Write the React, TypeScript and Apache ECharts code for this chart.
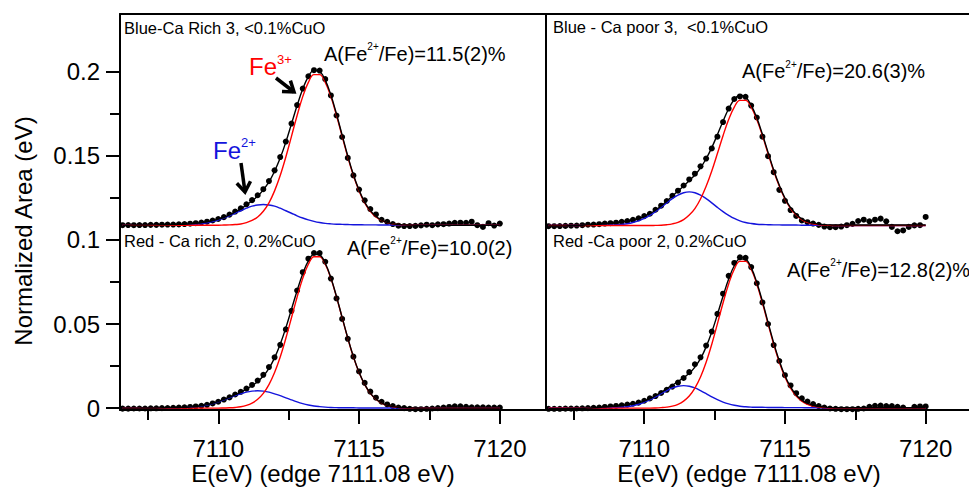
import React, { useEffect, useRef } from 'react';
import * as echarts from 'echarts';

// Photon energy grid shared by all four spectra (eV)
const ENERGY = [
  7106.6, 7106.8, 7107.0, 7107.2, 7107.4, 7107.6, 7107.8, 7108.0, 7108.2, 7108.4,
  7108.6, 7108.8, 7109.0, 7109.2, 7109.4, 7109.6, 7109.8, 7110.0, 7110.2, 7110.4,
  7110.6, 7110.8, 7111.0, 7111.2, 7111.4, 7111.6, 7111.8, 7112.0, 7112.2, 7112.4,
  7112.6, 7112.8, 7113.0, 7113.2, 7113.4, 7113.6, 7113.8, 7114.0, 7114.2, 7114.4,
  7114.6, 7114.8, 7115.0, 7115.2, 7115.4, 7115.6, 7115.8, 7116.0, 7116.2, 7116.4,
  7116.6, 7116.8, 7117.0, 7117.2, 7117.4, 7117.6, 7117.8, 7118.0, 7118.2, 7118.4,
  7118.6, 7118.8, 7119.0, 7119.2, 7119.4, 7119.6, 7119.8, 7120.0,
];

// Vertical offsets of the upper spectra in each panel
const OFFSET_RICH_3 = 0.1087;
const OFFSET_POOR_3 = 0.1085;

// Blue - Ca rich 3 (upper left)
const RICH3_DATA = [
  0.0000, 0.0001, 0.0000, 0.0001, 0.0001, 0.0002, 0.0002, 0.0003, 0.0004, 0.0004,
  0.0005, 0.0007, 0.0009, 0.0012, 0.0016, 0.0021, 0.0028, 0.0037, 0.0048, 0.0063,
  0.0081, 0.0100, 0.0124, 0.0149, 0.0178, 0.0214, 0.0262, 0.0326, 0.0405, 0.0497,
  0.0604, 0.0714, 0.0812, 0.0885, 0.0921, 0.0919, 0.0868, 0.0771, 0.0652, 0.0524,
  0.0400, 0.0296, 0.0212, 0.0148, 0.0096, 0.0064, 0.0032, 0.0020, 0.0007, -0.0003,
  -0.0005, -0.0005, -0.0004, -0.0001, 0.0003, 0.0000, 0.0005, 0.0006, 0.0010, 0.0014,
  0.0015, 0.0014, 0.0021, 0.0000, -0.0010, 0.0012, -0.0002, 0.0010,
];
const RICH3_FIT = [
  0.0000, 0.0000, 0.0001, 0.0001, 0.0001, 0.0002, 0.0002, 0.0003, 0.0003, 0.0004,
  0.0005, 0.0006, 0.0008, 0.0011, 0.0015, 0.0020, 0.0027, 0.0036, 0.0046, 0.0061,
  0.0079, 0.0097, 0.0120, 0.0145, 0.0173, 0.0210, 0.0257, 0.0321, 0.0399, 0.0494,
  0.0602, 0.0711, 0.0809, 0.0883, 0.0920, 0.0913, 0.0862, 0.0774, 0.0660, 0.0535,
  0.0411, 0.0300, 0.0209, 0.0137, 0.0087, 0.0053, 0.0030, 0.0017, 0.0008, 0.0005,
  0.0002, 0.0001, 0.0000, 0.0000, 0.0000, 0.0000, 0.0000, 0.0000, 0.0000, 0.0000,
  0.0000, 0.0000, 0.0000, 0.0000, 0.0000, 0.0000, 0.0000, 0.0000,
];
const RICH3_FE3 = [
  0.0000, 0.0000, 0.0000, 0.0000, 0.0000, 0.0000, 0.0000, 0.0000, 0.0000, 0.0000,
  0.0000, 0.0000, 0.0000, 0.0000, 0.0000, 0.0000, 0.0000, 0.0000, 0.0001, 0.0002,
  0.0004, 0.0007, 0.0015, 0.0028, 0.0049, 0.0083, 0.0133, 0.0204, 0.0295, 0.0405,
  0.0528, 0.0652, 0.0764, 0.0849, 0.0895, 0.0895, 0.0849, 0.0764, 0.0652, 0.0528,
  0.0405, 0.0295, 0.0204, 0.0133, 0.0083, 0.0049, 0.0028, 0.0015, 0.0007, 0.0004,
  0.0002, 0.0001, 0.0000, 0.0000, 0.0000, 0.0000, 0.0000, 0.0000, 0.0000, 0.0000,
  0.0000, 0.0000, 0.0000, 0.0000, 0.0000, 0.0000, 0.0000, 0.0000,
];
const RICH3_FE2 = [
  0.0000, 0.0000, 0.0000, 0.0000, 0.0000, 0.0000, 0.0000, 0.0001, 0.0001, 0.0001,
  0.0002, 0.0003, 0.0004, 0.0006, 0.0009, 0.0014, 0.0021, 0.0030, 0.0042, 0.0055,
  0.0071, 0.0086, 0.0101, 0.0113, 0.0120, 0.0123, 0.0120, 0.0113, 0.0101, 0.0086,
  0.0071, 0.0056, 0.0043, 0.0032, 0.0023, 0.0016, 0.0011, 0.0008, 0.0006, 0.0005,
  0.0004, 0.0003, 0.0003, 0.0002, 0.0002, 0.0002, 0.0001, 0.0001, 0.0001, 0.0001,
  0.0000, 0.0000, 0.0000, 0.0000, 0.0000, 0.0000, 0.0000, 0.0000, 0.0000, 0.0000,
  0.0000, 0.0000, 0.0000, 0.0000, 0.0000, 0.0000, 0.0000, 0.0000,
];

// Red - Ca rich 2 (lower left)
const RICH2_DATA = [
  -0.0003, -0.0003, -0.0002, -0.0002, -0.0002, -0.0001, -0.0001, 0.0000, 0.0001, 0.0002,
  0.0003, 0.0005, 0.0007, 0.0010, 0.0014, 0.0020, 0.0028, 0.0038, 0.0051, 0.0064,
  0.0081, 0.0097, 0.0116, 0.0138, 0.0164, 0.0198, 0.0244, 0.0302, 0.0376, 0.0468,
  0.0578, 0.0699, 0.0808, 0.0888, 0.0922, 0.0922, 0.0870, 0.0770, 0.0652, 0.0530,
  0.0412, 0.0306, 0.0218, 0.0150, 0.0098, 0.0062, 0.0038, 0.0022, 0.0012, 0.0004,
  0.0000, -0.0004, -0.0006, -0.0006, -0.0004, -0.0002, 0.0000, 0.0003, 0.0007, 0.0011,
  0.0011, 0.0008, 0.0005, 0.0005, 0.0005, 0.0004, 0.0004, 0.0003,
];
const RICH2_FIT = [
  0.0000, 0.0000, 0.0000, 0.0000, 0.0001, 0.0001, 0.0001, 0.0002, 0.0003, 0.0003,
  0.0004, 0.0005, 0.0007, 0.0010, 0.0015, 0.0021, 0.0029, 0.0039, 0.0052, 0.0065,
  0.0080, 0.0095, 0.0113, 0.0133, 0.0158, 0.0191, 0.0237, 0.0299, 0.0380, 0.0477,
  0.0587, 0.0698, 0.0799, 0.0875, 0.0914, 0.0910, 0.0861, 0.0775, 0.0663, 0.0539,
  0.0417, 0.0306, 0.0213, 0.0141, 0.0089, 0.0054, 0.0031, 0.0017, 0.0009, 0.0005,
  0.0003, 0.0002, 0.0001, 0.0000, 0.0000, 0.0000, 0.0000, 0.0000, 0.0000, 0.0000,
  0.0000, 0.0000, 0.0000, 0.0000, 0.0000, 0.0000, 0.0000, 0.0000,
];
const RICH2_FE3 = [
  0.0000, 0.0000, 0.0000, 0.0000, 0.0000, 0.0000, 0.0000, 0.0000, 0.0000, 0.0000,
  0.0000, 0.0000, 0.0000, 0.0000, 0.0000, 0.0000, 0.0000, 0.0000, 0.0001, 0.0002,
  0.0004, 0.0008, 0.0016, 0.0030, 0.0053, 0.0088, 0.0140, 0.0212, 0.0304, 0.0415,
  0.0537, 0.0660, 0.0771, 0.0855, 0.0900, 0.0900, 0.0855, 0.0771, 0.0660, 0.0537,
  0.0415, 0.0304, 0.0212, 0.0140, 0.0088, 0.0053, 0.0030, 0.0016, 0.0008, 0.0004,
  0.0002, 0.0001, 0.0000, 0.0000, 0.0000, 0.0000, 0.0000, 0.0000, 0.0000, 0.0000,
  0.0000, 0.0000, 0.0000, 0.0000, 0.0000, 0.0000, 0.0000, 0.0000,
];
const RICH2_FE2 = [
  0.0000, 0.0000, 0.0000, 0.0000, 0.0000, 0.0000, 0.0000, 0.0000, 0.0001, 0.0001,
  0.0002, 0.0003, 0.0005, 0.0008, 0.0013, 0.0019, 0.0027, 0.0037, 0.0049, 0.0061,
  0.0074, 0.0085, 0.0095, 0.0101, 0.0103, 0.0101, 0.0095, 0.0085, 0.0074, 0.0061,
  0.0049, 0.0037, 0.0027, 0.0019, 0.0013, 0.0009, 0.0006, 0.0004, 0.0003, 0.0002,
  0.0002, 0.0002, 0.0001, 0.0001, 0.0001, 0.0001, 0.0001, 0.0001, 0.0001, 0.0001,
  0.0000, 0.0000, 0.0000, 0.0000, 0.0000, 0.0000, 0.0000, 0.0000, 0.0000, 0.0000,
  0.0000, 0.0000, 0.0000, 0.0000, 0.0000, 0.0000, 0.0000, 0.0000,
];

// Blue - Ca poor 3 (upper right)
const POOR3_DATA = [
  -0.0004, -0.0004, -0.0003, -0.0002, -0.0001, 0.0000, 0.0002, 0.0005, 0.0006, 0.0008,
  0.0012, 0.0014, 0.0017, 0.0022, 0.0027, 0.0034, 0.0043, 0.0056, 0.0070, 0.0094,
  0.0118, 0.0146, 0.0177, 0.0207, 0.0238, 0.0274, 0.0308, 0.0352, 0.0398, 0.0458,
  0.0528, 0.0615, 0.0695, 0.0752, 0.0767, 0.0765, 0.0713, 0.0642, 0.0528, 0.0412,
  0.0317, 0.0212, 0.0147, 0.0092, 0.0057, 0.0030, 0.0020, 0.0012, 0.0004, -0.0006,
  -0.0010, -0.0010, -0.0006, 0.0002, 0.0010, 0.0027, 0.0035, 0.0025, 0.0035, 0.0041,
  0.0025, -0.0008, -0.0034, -0.0029, -0.0008, 0.0001, 0.0002, 0.0051,
];
const POOR3_FIT = [
  -0.0003, -0.0003, -0.0002, -0.0002, -0.0001, 0.0000, 0.0002, 0.0004, 0.0006, 0.0008,
  0.0011, 0.0014, 0.0017, 0.0021, 0.0026, 0.0033, 0.0042, 0.0055, 0.0071, 0.0091,
  0.0116, 0.0145, 0.0175, 0.0205, 0.0235, 0.0267, 0.0300, 0.0343, 0.0397, 0.0463,
  0.0540, 0.0620, 0.0694, 0.0749, 0.0774, 0.0764, 0.0716, 0.0640, 0.0542, 0.0435,
  0.0330, 0.0239, 0.0163, 0.0106, 0.0067, 0.0039, 0.0023, 0.0014, 0.0008, 0.0005,
  0.0004, 0.0003, 0.0003, 0.0003, 0.0003, 0.0003, 0.0003, 0.0003, 0.0003, 0.0003,
  0.0003, 0.0003, 0.0003, 0.0003, 0.0003, 0.0003, 0.0003, 0.0003,
];
const POOR3_FE3 = [
  0.0000, 0.0000, 0.0000, 0.0000, 0.0000, 0.0000, 0.0000, 0.0000, 0.0000, 0.0000,
  0.0000, 0.0000, 0.0000, 0.0000, 0.0000, 0.0000, 0.0000, 0.0000, 0.0000, 0.0001,
  0.0002, 0.0005, 0.0010, 0.0019, 0.0035, 0.0062, 0.0101, 0.0158, 0.0233, 0.0324,
  0.0428, 0.0534, 0.0630, 0.0704, 0.0744, 0.0744, 0.0704, 0.0630, 0.0534, 0.0428,
  0.0324, 0.0233, 0.0158, 0.0101, 0.0062, 0.0035, 0.0019, 0.0010, 0.0005, 0.0002,
  0.0001, 0.0000, 0.0000, 0.0000, 0.0000, 0.0000, 0.0000, 0.0000, 0.0000, 0.0000,
  0.0000, 0.0000, 0.0000, 0.0000, 0.0000, 0.0000, 0.0000, 0.0000,
];
const POOR3_FE2 = [
  0.0000, 0.0000, 0.0000, 0.0000, 0.0000, 0.0000, 0.0001, 0.0001, 0.0001, 0.0002,
  0.0002, 0.0003, 0.0004, 0.0007, 0.0011, 0.0018, 0.0028, 0.0042, 0.0061, 0.0083,
  0.0108, 0.0135, 0.0160, 0.0181, 0.0195, 0.0200, 0.0195, 0.0181, 0.0160, 0.0135,
  0.0108, 0.0083, 0.0061, 0.0042, 0.0028, 0.0018, 0.0012, 0.0008, 0.0006, 0.0005,
  0.0004, 0.0004, 0.0003, 0.0003, 0.0003, 0.0002, 0.0002, 0.0002, 0.0001, 0.0001,
  0.0001, 0.0000, 0.0000, 0.0000, 0.0000, 0.0000, 0.0000, 0.0000, 0.0000, 0.0000,
  0.0000, 0.0000, 0.0000, 0.0000, 0.0000, 0.0000, 0.0000, 0.0000,
];

// Red - Ca poor 2 (lower right)
const POOR2_DATA = [
  -0.0004, -0.0004, -0.0004, -0.0003, -0.0003, -0.0002, -0.0001, 0.0000, 0.0002, 0.0004,
  0.0007, 0.0010, 0.0013, 0.0017, 0.0021, 0.0026, 0.0033, 0.0044, 0.0058, 0.0072,
  0.0090, 0.0109, 0.0128, 0.0152, 0.0179, 0.0214, 0.0261, 0.0302, 0.0372, 0.0455,
  0.0560, 0.0680, 0.0786, 0.0863, 0.0896, 0.0893, 0.0838, 0.0742, 0.0628, 0.0500,
  0.0375, 0.0280, 0.0196, 0.0135, 0.0089, 0.0058, 0.0039, 0.0024, 0.0012, 0.0003,
  -0.0002, -0.0004, -0.0006, -0.0006, -0.0006, -0.0004, -0.0002, 0.0008, 0.0014, 0.0015,
  0.0012, 0.0012, 0.0008, 0.0004, -0.0016, 0.0008, 0.0010, 0.0010,
];
const POOR2_FIT = [
  -0.0003, -0.0003, -0.0003, -0.0003, -0.0002, -0.0002, -0.0001, 0.0000, 0.0002, 0.0004,
  0.0007, 0.0010, 0.0013, 0.0017, 0.0021, 0.0026, 0.0033, 0.0042, 0.0055, 0.0074,
  0.0094, 0.0115, 0.0137, 0.0158, 0.0181, 0.0207, 0.0244, 0.0294, 0.0364, 0.0452,
  0.0556, 0.0665, 0.0767, 0.0846, 0.0887, 0.0884, 0.0835, 0.0747, 0.0634, 0.0509,
  0.0388, 0.0281, 0.0192, 0.0126, 0.0078, 0.0048, 0.0028, 0.0017, 0.0010, 0.0006,
  0.0004, 0.0002, 0.0002, 0.0002, 0.0002, 0.0002, 0.0002, 0.0002, 0.0002, 0.0002,
  0.0002, 0.0002, 0.0002, 0.0002, 0.0002, 0.0002, 0.0002, 0.0002,
];
const POOR2_FE3 = [
  0.0000, 0.0000, 0.0000, 0.0000, 0.0000, 0.0000, 0.0000, 0.0000, 0.0000, 0.0000,
  0.0000, 0.0000, 0.0000, 0.0000, 0.0000, 0.0000, 0.0000, 0.0000, 0.0000, 0.0001,
  0.0003, 0.0006, 0.0012, 0.0023, 0.0042, 0.0072, 0.0119, 0.0185, 0.0273, 0.0380,
  0.0501, 0.0625, 0.0738, 0.0825, 0.0872, 0.0872, 0.0825, 0.0738, 0.0625, 0.0501,
  0.0380, 0.0273, 0.0185, 0.0119, 0.0072, 0.0042, 0.0023, 0.0012, 0.0006, 0.0003,
  0.0001, 0.0000, 0.0000, 0.0000, 0.0000, 0.0000, 0.0000, 0.0000, 0.0000, 0.0000,
  0.0000, 0.0000, 0.0000, 0.0000, 0.0000, 0.0000, 0.0000, 0.0000,
];
const POOR2_FE2 = [
  0.0000, 0.0000, 0.0000, 0.0000, 0.0000, 0.0000, 0.0000, 0.0000, 0.0000, 0.0001,
  0.0001, 0.0002, 0.0003, 0.0005, 0.0008, 0.0014, 0.0023, 0.0035, 0.0049, 0.0067,
  0.0086, 0.0104, 0.0120, 0.0130, 0.0134, 0.0130, 0.0120, 0.0104, 0.0086, 0.0067,
  0.0050, 0.0036, 0.0025, 0.0017, 0.0011, 0.0008, 0.0006, 0.0005, 0.0005, 0.0004,
  0.0004, 0.0004, 0.0003, 0.0003, 0.0003, 0.0003, 0.0002, 0.0002, 0.0002, 0.0001,
  0.0001, 0.0000, 0.0000, 0.0000, 0.0000, 0.0000, 0.0000, 0.0000, 0.0000, 0.0000,
  0.0000, 0.0000, 0.0000, 0.0000, 0.0000, 0.0000, 0.0000, 0.0000,
];

// Axis ticks and labels
const X_MAJOR = [7110, 7115, 7120];
const X_MINOR = [7107.5, 7112.5, 7117.5];
const Y_MAJOR = [0, 0.05, 0.1, 0.15, 0.2];
const Y_MINOR = [0.025, 0.075, 0.125, 0.175];

const CAPTIONS = [
  'Blue-Ca Rich 3, <0.1%CuO',
  'Red - Ca rich 2, 0.2%CuO',
  'Blue - Ca poor 3,  <0.1%CuO',
  'Red -Ca poor 2, 0.2%CuO',
];
const RATIOS = ['11.5(2)%', '10.0(2)', '20.6(3)%', '12.8(2)%'];
const X_TITLE = 'E(eV) (edge 7111.08 eV)';
const Y_TITLE = 'Normalized Area (eV)';

const FONT = '"Liberation Sans", Arial, Helvetica, sans-serif';
const RED = '#ff0000';
const BLUE = '#1414dc';
const X_MIN = 7106.51;
const Y_MIN = -0.0011;
const Y_MAX = 0.2342;

const points = (vals: number[], offset: number) =>
  ENERGY.map((e, i) => [e, vals[i] + offset]);

function spectrum(axis: number, fe2: number[], fe3: number[], fit: number[], data: number[], offset: number) {
  const common = { xAxisIndex: axis, yAxisIndex: axis, silent: true, animation: false };
  const curve = (vals: number[], color: string, width: number) => ({
    ...common,
    type: 'line',
    data: points(vals, offset),
    smooth: 0.4,
    symbol: 'none',
    showSymbol: false,
    lineStyle: { color, width },
  });
  return [
    curve(fe2, BLUE, 1.4),
    curve(fe3, RED, 1.4),
    curve(fit, '#000', 1.4),
    {
      ...common,
      type: 'scatter',
      data: points(data, offset),
      symbol: 'circle',
      symbolSize: 6,
      itemStyle: { color: '#000', opacity: 1 },
    },
  ];
}

function xAxes(grid: number, max: number) {
  const base = { type: 'value', gridIndex: grid, min: X_MIN, max, splitLine: { show: false } };
  return [
    {
      ...base,
      position: 'bottom',
      axisLine: { show: true, onZero: false, lineStyle: { color: '#000', width: 2 } },
      axisTick: { show: true, customValues: X_MAJOR, length: 14, lineStyle: { color: '#000', width: 2 } },
      axisLabel: {
        show: true, customValues: X_MAJOR, fontSize: 24, fontFamily: FONT, color: '#000', margin: 26,
        formatter: (v: number) => String(v),
      },
    },
    {
      ...base,
      position: 'bottom',
      axisLine: { show: false, onZero: false },
      axisTick: { show: true, customValues: X_MINOR, length: 10, lineStyle: { color: '#000', width: 2 } },
      axisLabel: { show: false },
    },
    {
      ...base,
      position: 'top',
      axisLine: { show: true, onZero: false, lineStyle: { color: '#000', width: 2 } },
      axisTick: { show: false },
      axisLabel: { show: false },
    },
  ];
}

const yBase = (grid: number) => ({
  type: 'value', gridIndex: grid, min: Y_MIN, max: Y_MAX, splitLine: { show: false },
});

function buildOption() {
  const ratio = (x: number, y: number, value: string, lift: number) => ({
    type: 'text', x, y, silent: true,
    style: {
      text: `{m|A(Fe}{s|2+}{m|/Fe)=${value}}`,
      align: 'left', verticalAlign: 'middle', textAlign: 'left', textVerticalAlign: 'middle',
      rich: {
        m: { fontSize: 20, fontFamily: FONT, fill: '#000', color: '#000', lineHeight: 24 },
        s: {
          fontSize: 10, fontFamily: FONT, fill: '#000', color: '#000',
          lineHeight: 24 - 2 * lift, verticalAlign: 'top',
        },
      },
    },
  });
  const ion = (x: number, y: number, charge: string, color: string) => ({
    type: 'text', x, y, silent: true,
    style: {
      text: `{m|Fe}{s|${charge}}`,
      align: 'left', verticalAlign: 'middle', textAlign: 'left', textVerticalAlign: 'middle',
      rich: {
        m: { fontSize: 24, fontFamily: FONT, fill: color, color, lineHeight: 28 },
        s: { fontSize: 13, fontFamily: FONT, fill: color, color, lineHeight: 25, verticalAlign: 'top' },
      },
    },
  });
  const plain = (x: number, y: number, text: string, size: number, align = 'left', rotation = 0) => ({
    type: 'text', x, y, rotation, silent: true,
    style: {
      text, fontSize: size, fontFamily: FONT, fill: '#000',
      align, verticalAlign: 'middle', textAlign: align, textVerticalAlign: 'middle',
    },
  });
  const arrow = (x1: number, y1: number, x2: number, y2: number, w1: number[], w2: number[]) => [
    {
      type: 'line', silent: true,
      shape: { x1, y1, x2, y2 },
      style: { stroke: '#000', lineWidth: 3.5 },
    },
    {
      type: 'polyline', silent: true,
      shape: { points: [w1, [x2, y2], w2] },
      style: { stroke: '#000', lineWidth: 3.5, fill: null, lineJoin: 'miter' },
    },
  ];

  return {
    animation: false,
    backgroundColor: '#fff',
    textStyle: { fontFamily: FONT },
    grid: [
      { left: 120, top: 14, width: 426, height: 396, outerBoundsMode: 'none' },
      { left: 546, top: 14, width: 423, height: 396, outerBoundsMode: 'none' },
    ],
    xAxis: [...xAxes(0, 7121.64), ...xAxes(1, 7121.54)],
    yAxis: [
      {
        ...yBase(0),
        position: 'left',
        axisLine: { show: true, onZero: false, lineStyle: { color: '#000', width: 2 } },
        axisTick: { show: true, customValues: Y_MAJOR, length: 14, lineStyle: { color: '#000', width: 2 } },
        axisLabel: {
          show: true, customValues: Y_MAJOR, fontSize: 24, fontFamily: FONT, color: '#000', margin: 20,
          formatter: (v: number) => String(v),
        },
      },
      {
        ...yBase(0),
        position: 'left',
        axisLine: { show: false, onZero: false },
        axisTick: { show: true, customValues: Y_MINOR, length: 10, lineStyle: { color: '#000', width: 2 } },
        axisLabel: { show: false },
      },
      {
        ...yBase(0),
        position: 'right',
        axisLine: { show: true, onZero: false, lineStyle: { color: '#000', width: 2 } },
        axisTick: { show: false },
        axisLabel: { show: false },
      },
      {
        ...yBase(1),
        position: 'left',
        axisLine: { show: true, onZero: false, lineStyle: { color: '#000', width: 2 } },
        axisTick: { show: false },
        axisLabel: { show: false },
      },
    ],
    series: [
      ...spectrum(0, RICH3_FE2, RICH3_FE3, RICH3_FIT, RICH3_DATA, OFFSET_RICH_3),
      ...spectrum(0, RICH2_FE2, RICH2_FE3, RICH2_FIT, RICH2_DATA, 0),
      ...spectrum(3, POOR3_FE2, POOR3_FE3, POOR3_FIT, POOR3_DATA, OFFSET_POOR_3),
      ...spectrum(3, POOR2_FE2, POOR2_FE3, POOR2_FIT, POOR2_DATA, 0),
    ],
    graphic: [
      plain(124, 27.5, CAPTIONS[0], 16.5),
      plain(124, 240.5, CAPTIONS[1], 16.5),
      plain(553, 27, CAPTIONS[2], 16.5),
      plain(553, 241, CAPTIONS[3], 16.5),
      ratio(324, 53.7, RATIOS[0], 1.5),
      ratio(347, 247.5, RATIOS[1], 2.5),
      ratio(742, 71, RATIOS[2], 7),
      ratio(787, 269.7, RATIOS[3], 3),
      ion(249, 66.7, '3+', RED),
      ion(213, 150, '2+', BLUE),
      ...arrow(276, 78, 294, 92, [290.4, 80.6], [282, 91.4]),
      ...arrow(241, 163, 245, 192, [250.5, 181.3], [236.8, 183.2]),
      plain(323, 473, X_TITLE, 24, 'center'),
      plain(749, 473, X_TITLE, 24, 'center'),
      plain(23, 231, Y_TITLE, 24, 'center', Math.PI / 2),
    ],
  };
}

export default function App() {
  const ref = useRef<HTMLDivElement>(null);
  useEffect(() => {
    if (!ref.current) return;
    const chart = echarts.init(ref.current, undefined, { renderer: 'svg' });
    chart.setOption(buildOption() as any);
    return () => chart.dispose();
  }, []);
  return (
    <div
      ref={ref}
      style={{ position: 'fixed', left: 0, top: 0, width: 969, height: 487, background: '#fff' }}
    />
  );
}
